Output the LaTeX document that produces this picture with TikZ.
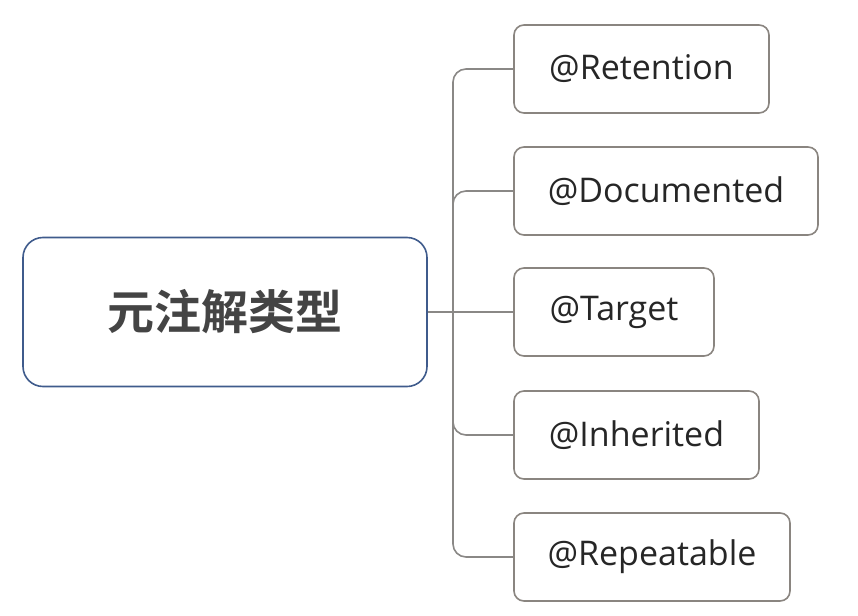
\documentclass[tikz,border=0pt]{standalone}
\usepackage{fontspec}
\setmainfont{Open Sans}
\newfontfamily\cjkbold{Noto Sans CJK SC Bold}
\begin{document}
\begin{tikzpicture}[x=1pt,y=-1pt,
  rootbox/.style={draw=rootblue, line width=1.6pt, rounded corners=20pt, fill=white,
    minimum width=404pt, minimum height=149pt, font=\cjkbold\fontsize{47}{52}\selectfont, text=textgray},
  leafbox/.style={draw=leafgray, line width=1.6pt, rounded corners=10pt, fill=white,
    minimum height=88pt, font=\fontsize{34}{40}\selectfont, text=textdark},
  conn/.style={draw=conngray, line width=1.6pt, rounded corners=13pt}]
\definecolor{rootblue}{HTML}{3F5B8C}
\definecolor{leafgray}{HTML}{8A8580}
\definecolor{conngray}{HTML}{8A8886}
\definecolor{textgray}{HTML}{444444}
\definecolor{textdark}{HTML}{262626}
\useasboundingbox (0,0) rectangle (858,615);
\node[rootbox] (root) at (225,312) {元注解类型};
\node[leafbox, minimum width=255pt] (ret) at (641.5,69) {@Retention};
\node[leafbox, minimum width=304pt] (doc) at (666,191) {@Documented};
\node[leafbox, minimum width=200pt] (tar) at (614,312) {@Target};
\node[leafbox, minimum width=245pt] (inh) at (636.5,435) {@Inherited};
\node[leafbox, minimum width=276pt] (rep) at (652,557) {@Repeatable};
\coordinate (j) at (453,312);
\draw[conn] (root.east) -- (tar.west);
\draw[conn] (j) |- (ret.west);
\draw[conn] (j) |- (doc.west);
\draw[conn] (j) |- (inh.west);
\draw[conn] (j) |- (rep.west);
\end{tikzpicture}
\end{document}
